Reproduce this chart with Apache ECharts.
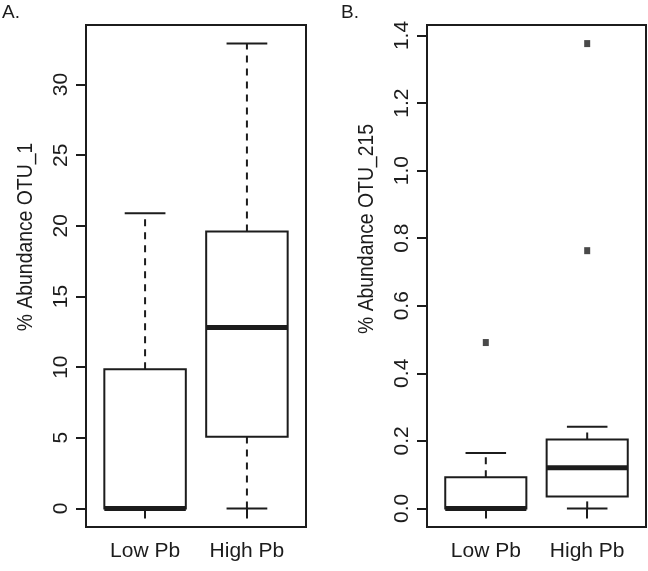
<!DOCTYPE html>
<html>
<head>
<meta charset="utf-8">
<script src="https://cdn.jsdelivr.net/npm/echarts@6/dist/echarts.min.js"></script>
<style>
html,body{margin:0;padding:0;background:#fff;}
#chart{width:648px;height:571px;}
</style>
</head>
<body>
<div id="chart"></div>
<script>
// ---- data ----
const categories = ['Low Pb', 'High Pb'];
const positions = [1, 2];
// Panel A: [min, q1, median, q3, max] per category
const otu1Stats = [
  [0, 0, 0, 9.85, 20.9],
  [0, 5.07, 12.8, 19.6, 32.9]
];
const otu1Outliers = [];
const otu1Ticks = [0, 5, 10, 15, 20, 25, 30];
// Panel B
const otu215Stats = [
  [0, 0, 0, 0.092, 0.164],
  [0, 0.035, 0.120, 0.204, 0.242]
];
const otu215Outliers = [[1, 0.491], [2, 0.763], [2, 1.376]];
const otu215Ticks = [0, 0.2, 0.4, 0.6, 0.8, 1.0, 1.2, 1.4];

const INK = '#1c1c1c';
const FONT = "'Liberation Sans', Arial, Helvetica, sans-serif";

function rRange(stats, outliers) {
  let lo = Infinity, hi = -Infinity;
  stats.forEach(s => s.forEach(v => { lo = Math.min(lo, v); hi = Math.max(hi, v); }));
  outliers.forEach(o => { lo = Math.min(lo, o[1]); hi = Math.max(hi, o[1]); });
  const ext = (hi - lo) * 0.04;
  return [lo - ext, hi + ext];
}
const rangeA = rRange(otu1Stats, otu1Outliers);
const rangeB = rRange(otu215Stats, otu215Outliers);

function boxData(stats) {
  return stats.map((s, i) => [positions[i]].concat(s));
}

function renderBox(params, api) {
  const x = api.value(0);
  const mn = api.value(1), q1 = api.value(2), md = api.value(3), q3 = api.value(4), mx = api.value(5);
  const c = (xx, yy) => api.coord([xx, yy]);
  const halfW = 0.4, capW = 0.2;
  const pMin = c(x, mn), pQ1 = c(x, q1), pMd = c(x - halfW, md), pQ3 = c(x, q3), pMx = c(x, mx);
  const left = c(x - halfW, q3), right = c(x + halfW, q1);
  const capL = c(x - capW, mx)[0], capR = c(x + capW, mx)[0];
  const dash = { stroke: INK, lineWidth: 2, lineDash: [7, 6] };
  const solid = { stroke: INK, lineWidth: 2 };
  const children = [
    { type: 'line', shape: { x1: pQ3[0], y1: pQ3[1], x2: pMx[0], y2: pMx[1] }, style: dash },
    { type: 'line', shape: { x1: pMin[0], y1: pMin[1], x2: pQ1[0], y2: pQ1[1] }, style: dash },
    { type: 'line', shape: { x1: capL, y1: pMx[1], x2: capR, y2: pMx[1] }, style: solid },
    { type: 'line', shape: { x1: capL, y1: pMin[1], x2: capR, y2: pMin[1] }, style: solid },
    { type: 'rect', shape: { x: left[0], y: left[1], width: right[0] - left[0], height: right[1] - left[1] },
      style: { fill: '#fff', stroke: INK, lineWidth: 2 } },
    { type: 'line', shape: { x1: left[0], y1: pMd[1], x2: right[0], y2: pMd[1] },
      style: { stroke: INK, lineWidth: 5 } }
  ];
  return { type: 'group', children: children };
}

function xAxisCfg(gridIndex) {
  return {
    type: 'value', gridIndex: gridIndex, min: 0.42, max: 2.58,
    axisLine: { show: false }, splitLine: { show: false },
    axisTick: { show: true, customValues: positions, length: 10, lineStyle: { color: INK, width: 2 } },
    axisLabel: { customValues: positions, formatter: v => categories[positions.indexOf(Math.round(v))],
      margin: 14, fontSize: 21, color: INK, fontFamily: FONT }
  };
}
function yAxisCfg(gridIndex, range, ticks, fmt) {
  return {
    type: 'value', gridIndex: gridIndex, min: range[0], max: range[1],
    axisLine: { show: false }, splitLine: { show: false },
    axisTick: { show: true, customValues: ticks, length: 10, lineStyle: { color: INK, width: 2 } },
    axisLabel: { customValues: ticks, rotate: 90, formatter: fmt,
      margin: 14, fontSize: 21, color: INK, fontFamily: FONT }
  };
}

const chart = echarts.init(document.getElementById('chart'), null, { renderer: 'canvas' });
chart.setOption({
  animation: false,
  backgroundColor: '#fff',
  grid: [
    { left: 86, top: 25, width: 220, height: 502, show: true, borderColor: INK, borderWidth: 2, backgroundColor: 'transparent' },
    { left: 427, top: 25, width: 219, height: 502, show: true, borderColor: INK, borderWidth: 2, backgroundColor: 'transparent' }
  ],
  xAxis: [xAxisCfg(0), xAxisCfg(1)],
  yAxis: [
    yAxisCfg(0, rangeA, otu1Ticks, v => String(Math.round(v))),
    yAxisCfg(1, rangeB, otu215Ticks, v => v.toFixed(1))
  ],
  series: [
    { type: 'custom', xAxisIndex: 0, yAxisIndex: 0, renderItem: renderBox, data: boxData(otu1Stats),
      encode: { x: 0, y: [1, 2, 3, 4, 5] } },
    { type: 'scatter', xAxisIndex: 0, yAxisIndex: 0, data: otu1Outliers, symbol: 'rect', symbolSize: [6, 7],
      itemStyle: { color: INK } },
    { type: 'custom', xAxisIndex: 1, yAxisIndex: 1, renderItem: renderBox, data: boxData(otu215Stats),
      encode: { x: 0, y: [1, 2, 3, 4, 5] } },
    { type: 'scatter', xAxisIndex: 1, yAxisIndex: 1, data: otu215Outliers, symbol: 'rect', symbolSize: [6, 7],
      itemStyle: { color: INK } }
  ],
  graphic: [
    { type: 'text', x: 2, y: 3, style: { text: 'A.', font: '19px ' + FONT, fill: INK } },
    { type: 'text', x: 341, y: 3, style: { text: 'B.', font: '19px ' + FONT, fill: INK } },
    { type: 'text', x: 26, y: 237, rotation: Math.PI / 2, scaleX: 0.88,
      style: { text: '% Abundance OTU_1', font: '22px ' + FONT, fill: INK, align: 'center', verticalAlign: 'middle' } },
    { type: 'text', x: 367, y: 229, rotation: Math.PI / 2, scaleX: 0.88,
      style: { text: '% Abundance OTU_215', font: '22px ' + FONT, fill: INK, align: 'center', verticalAlign: 'middle' } }
  ]
});
</script>
</body>
</html>
